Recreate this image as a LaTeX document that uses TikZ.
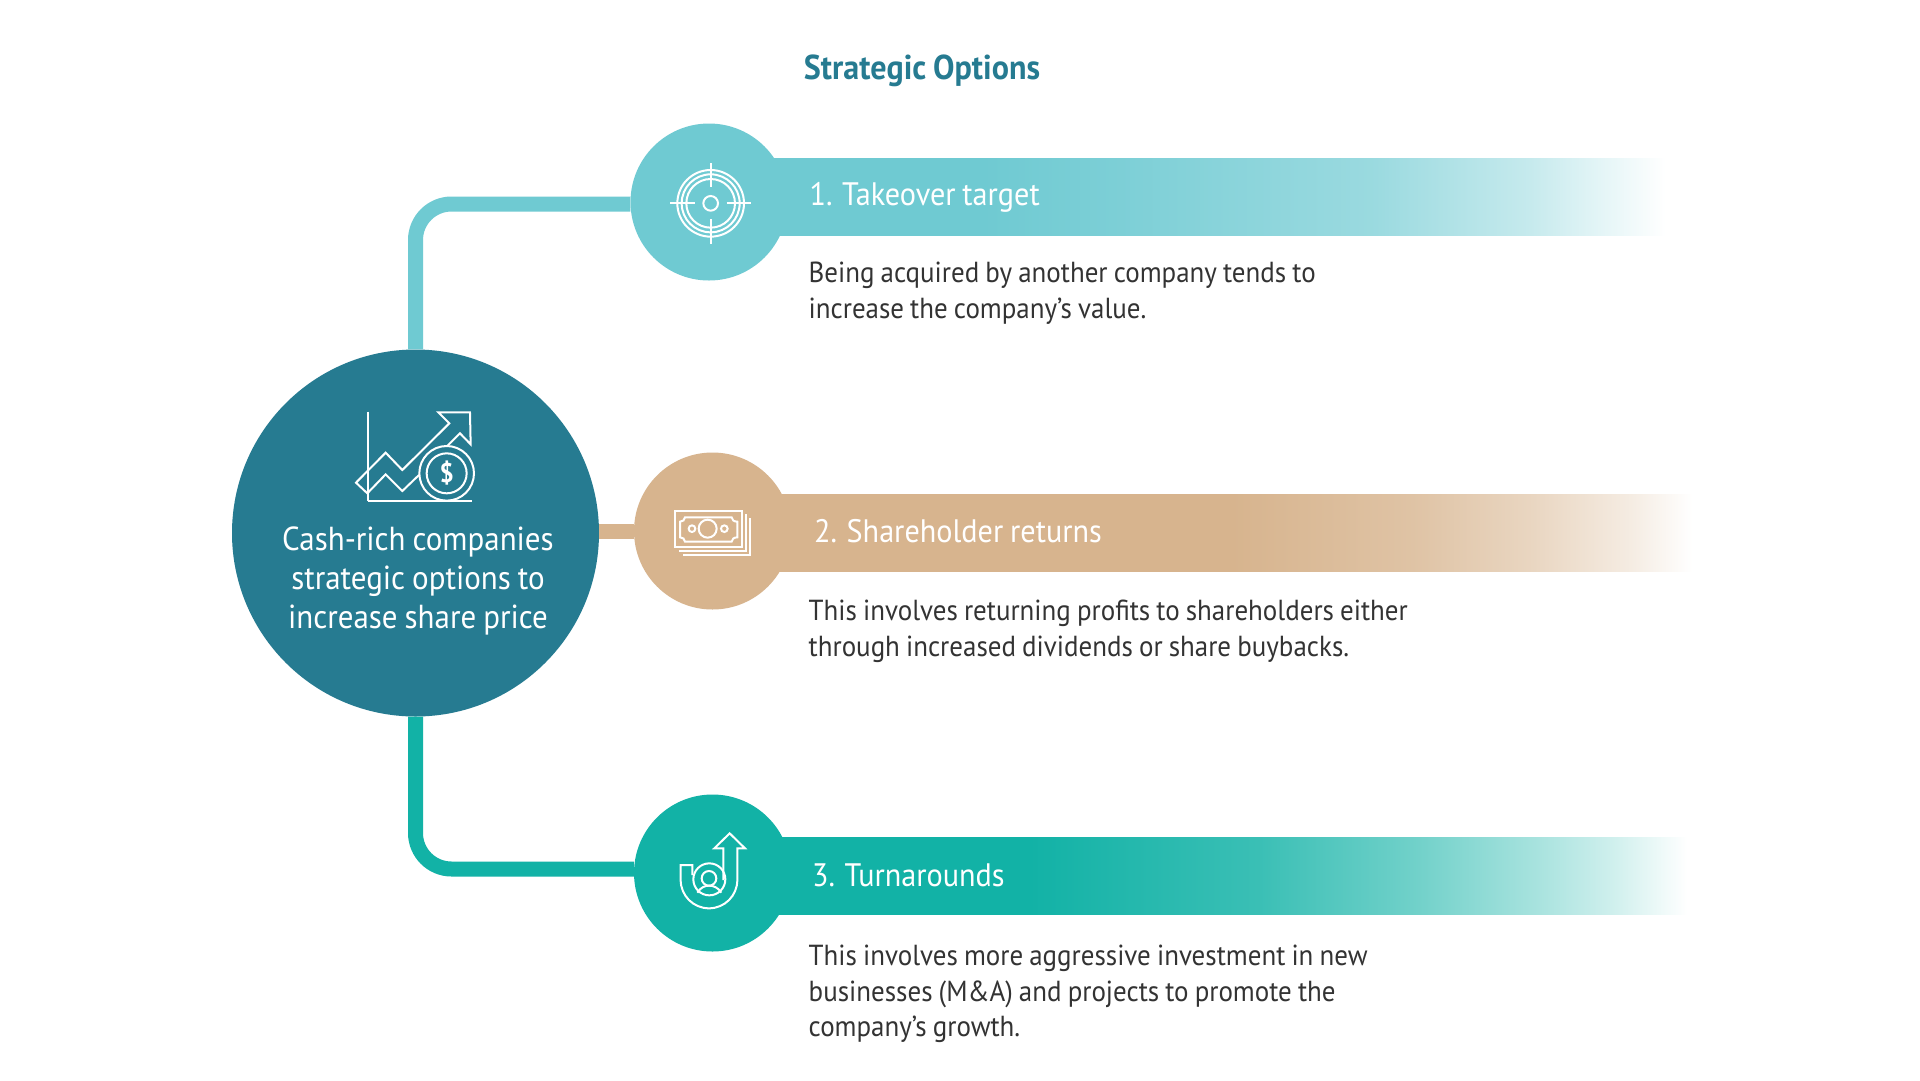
\documentclass[tikz,border=0pt]{standalone}
\usepackage{fontspec}
\setmainfont[FakeStretch=0.93,WordSpace=0.85]{PT Sans}
\usepackage{xcolor}
\usetikzlibrary{calc,positioning}
\definecolor{hubteal}{HTML}{267B91}
\definecolor{aquacol}{HTML}{6FCAD2}
\definecolor{sandcol}{HTML}{D7B48E}
\definecolor{greencol}{HTML}{12B2A6}
\definecolor{bodygrey}{HTML}{333333}
\pgfdeclarehorizontalshading{aquafade}{100bp}{color(0bp)=(aquacol); color(40bp)=(aquacol); color(46bp)=(aquacol!92!white); color(60bp)=(aquacol!70!white); color(68bp)=(aquacol!40!white); color(75bp)=(white); color(100bp)=(white)}
\pgfdeclarehorizontalshading{sandfade}{100bp}{color(0bp)=(sandcol); color(52bp)=(sandcol); color(61bp)=(sandcol!80!white); color(67bp)=(sandcol!55!white); color(72bp)=(sandcol!25!white); color(75bp)=(white); color(100bp)=(white)}
\pgfdeclarehorizontalshading{greenfade}{100bp}{color(0bp)=(greencol); color(42bp)=(greencol); color(53.5bp)=(greencol!83!white); color(61.4bp)=(greencol!60!white); color(67.4bp)=(greencol!37!white); color(71.3bp)=(greencol!20!white); color(75bp)=(white); color(100bp)=(white)}
\tikzset{%
	hub/.style    = {circle, fill=hubteal, inner sep=0pt, minimum size=367pt},
	badge/.style  = {circle, inner sep=0pt, minimum size=157pt},
	band/.style   = {rectangle, anchor=west, inner sep=0pt, minimum height=77pt},
	link/.style   = {line width=15pt, rounded corners=36pt},
	glyph/.style  = {draw=white, line width=2pt, fill=none},
	title/.style  = {font=\fontsize{34.5}{40}\selectfont\bfseries, text=hubteal},
	head/.style   = {anchor=west, inner sep=0pt, text=white, font=\fontsize{32.5}{36}\selectfont},
	body/.style   = {anchor=north west, inner sep=0pt, align=left, text=bodygrey, font=\fontsize{29}{35.5}\selectfont},
	hubtext/.style= {align=center, inner sep=0pt, text=white, font=\fontsize{33.3}{38.6}\selectfont},
}
\begin{document}
\begin{tikzpicture}[x=1pt,y=-1pt]
	\useasboundingbox (0,0) rectangle (1920,1080);
	\fill[white] (0,0) rectangle (1920,1080);
	\node[title] (heading) at (922,71) {Strategic Options};

	\node[band, shading=aquafade, minimum width=975pt] (bandone) at (690,196.5) {};
	\node[band, shading=sandfade, minimum width=1002pt] (bandtwo) at (690,532.5) {};
	\node[band, shading=greenfade, minimum width=997pt] (bandthree) at (690,876) {};

	\node[hub] (hubnode) at (415.5,533) {};
	\node[badge, fill=aquacol] (target) at (709,202) {};
	\node[badge, fill=sandcol] (cash) at (712.5,531) {};
	\node[badge, fill=greencol] (turn) at (712.5,873) {};

	\draw[link, aquacol] (hubnode.north) |- ([yshift=-2pt]target.west);
	\draw[link, sandcol] (hubnode.east |- cash.west) -- (cash.west);
	\draw[link, greencol] (hubnode.south) |- ([yshift=4pt]turn.west);

	\node[head] (headone) at (809.5,197) {1. Takeover target};
	\node[head] (headtwo) at (814,531) {2. Shareholder returns};
	\node[head] (headthree) at (812,875) {3. Turnarounds};

	\node[body] (bodyone) at (808.5,262) {Being acquired by another company tends to\\increase the company’s value.};
	\node[body] (bodytwo) at (808.5,600) {This involves returning profits to shareholders either\\through increased dividends or share buybacks.};
	\node[body] (bodythree) at (808.5,945) {This involves more aggressive investment in new\\businesses (M\&A) and projects to promote the\\company’s growth.};

	\node[hubtext] (hubtitle) at (418,581) {Cash-rich companies\\strategic options to\\increase share price};

	\begin{scope}[shift={(340,390)},x=0.3333pt,y=-0.3333pt,glyph/.append style={line join=miter}]
		\draw[glyph] (85,65) -- (85,332);
		\draw[glyph] (85,332) -- (395,332);
		\draw[glyph] (322,168) -- (360,130) -- (392,163) -- (390,67) -- (295,67) -- (328,100) -- (187,240) -- (137,188) -- (48,278) -- (82,310) -- (137,253) -- (187,303) -- (237,255);
		\draw[glyph, fill=hubteal] (320,250) circle (82);
		\draw[glyph] (320,250) circle (60);
		\node[text=white, font=\fontsize{27}{27}\selectfont\bfseries] (coinsign) at (320,250) {\$};
	\end{scope}

	\begin{scope}[shift={(650,150)},x=0.3333pt,y=-0.3333pt]
		\foreach \ringsize in {22,73,87,100}
			\draw[glyph] (182,160) circle (\ringsize);
		\draw[glyph] (60,160) -- (135,160);
		\draw[glyph] (230,160) -- (303,160);
		\draw[glyph] (182,40) -- (182,112);
		\draw[glyph] (182,208) -- (182,282);
	\end{scope}

	\begin{scope}[shift={(660,490)},x=0.3333pt,y=-0.3333pt]
		\draw[glyph] (45,62) rectangle (245,172);
		\draw[glyph] (75,82) -- (215,82) .. controls (215,90) and (222,95) .. (232,95) -- (232,142) .. controls (222,142) and (215,147) .. (215,155) -- (75,155) .. controls (75,147) and (68,142) .. (60,142) -- (60,95) .. controls (68,95) and (75,90) .. (75,82) -- cycle;
		\draw[glyph] (143,116) circle (27);
		\draw[glyph] (96,116) circle (10);
		\draw[glyph] (193,116) circle (10);
		\draw[glyph] (58,182) -- (258,182) -- (258,72);
		\draw[glyph] (70,195) -- (270,195) -- (270,85);
	\end{scope}

	\begin{scope}[shift={(660,820)},x=0.3333pt,y=-0.3333pt]
		\draw[glyph] (190,180) -- (190,85) -- (163,85) -- (209,40) -- (255,85) -- (232,85) -- (232,180) arc[start angle=0, end angle=180, x radius=85, y radius=85] -- (62,135) -- (97,135) -- (97,165);
		\draw[glyph] (148,178) circle (48);
		\draw[glyph] (147,175) circle (22);
		\draw[glyph] (112,218) .. controls (122,202) and (135,197) .. (147,197) .. controls (160,197) and (174,202) .. (184,218);
	\end{scope}
\end{tikzpicture}
\end{document}
